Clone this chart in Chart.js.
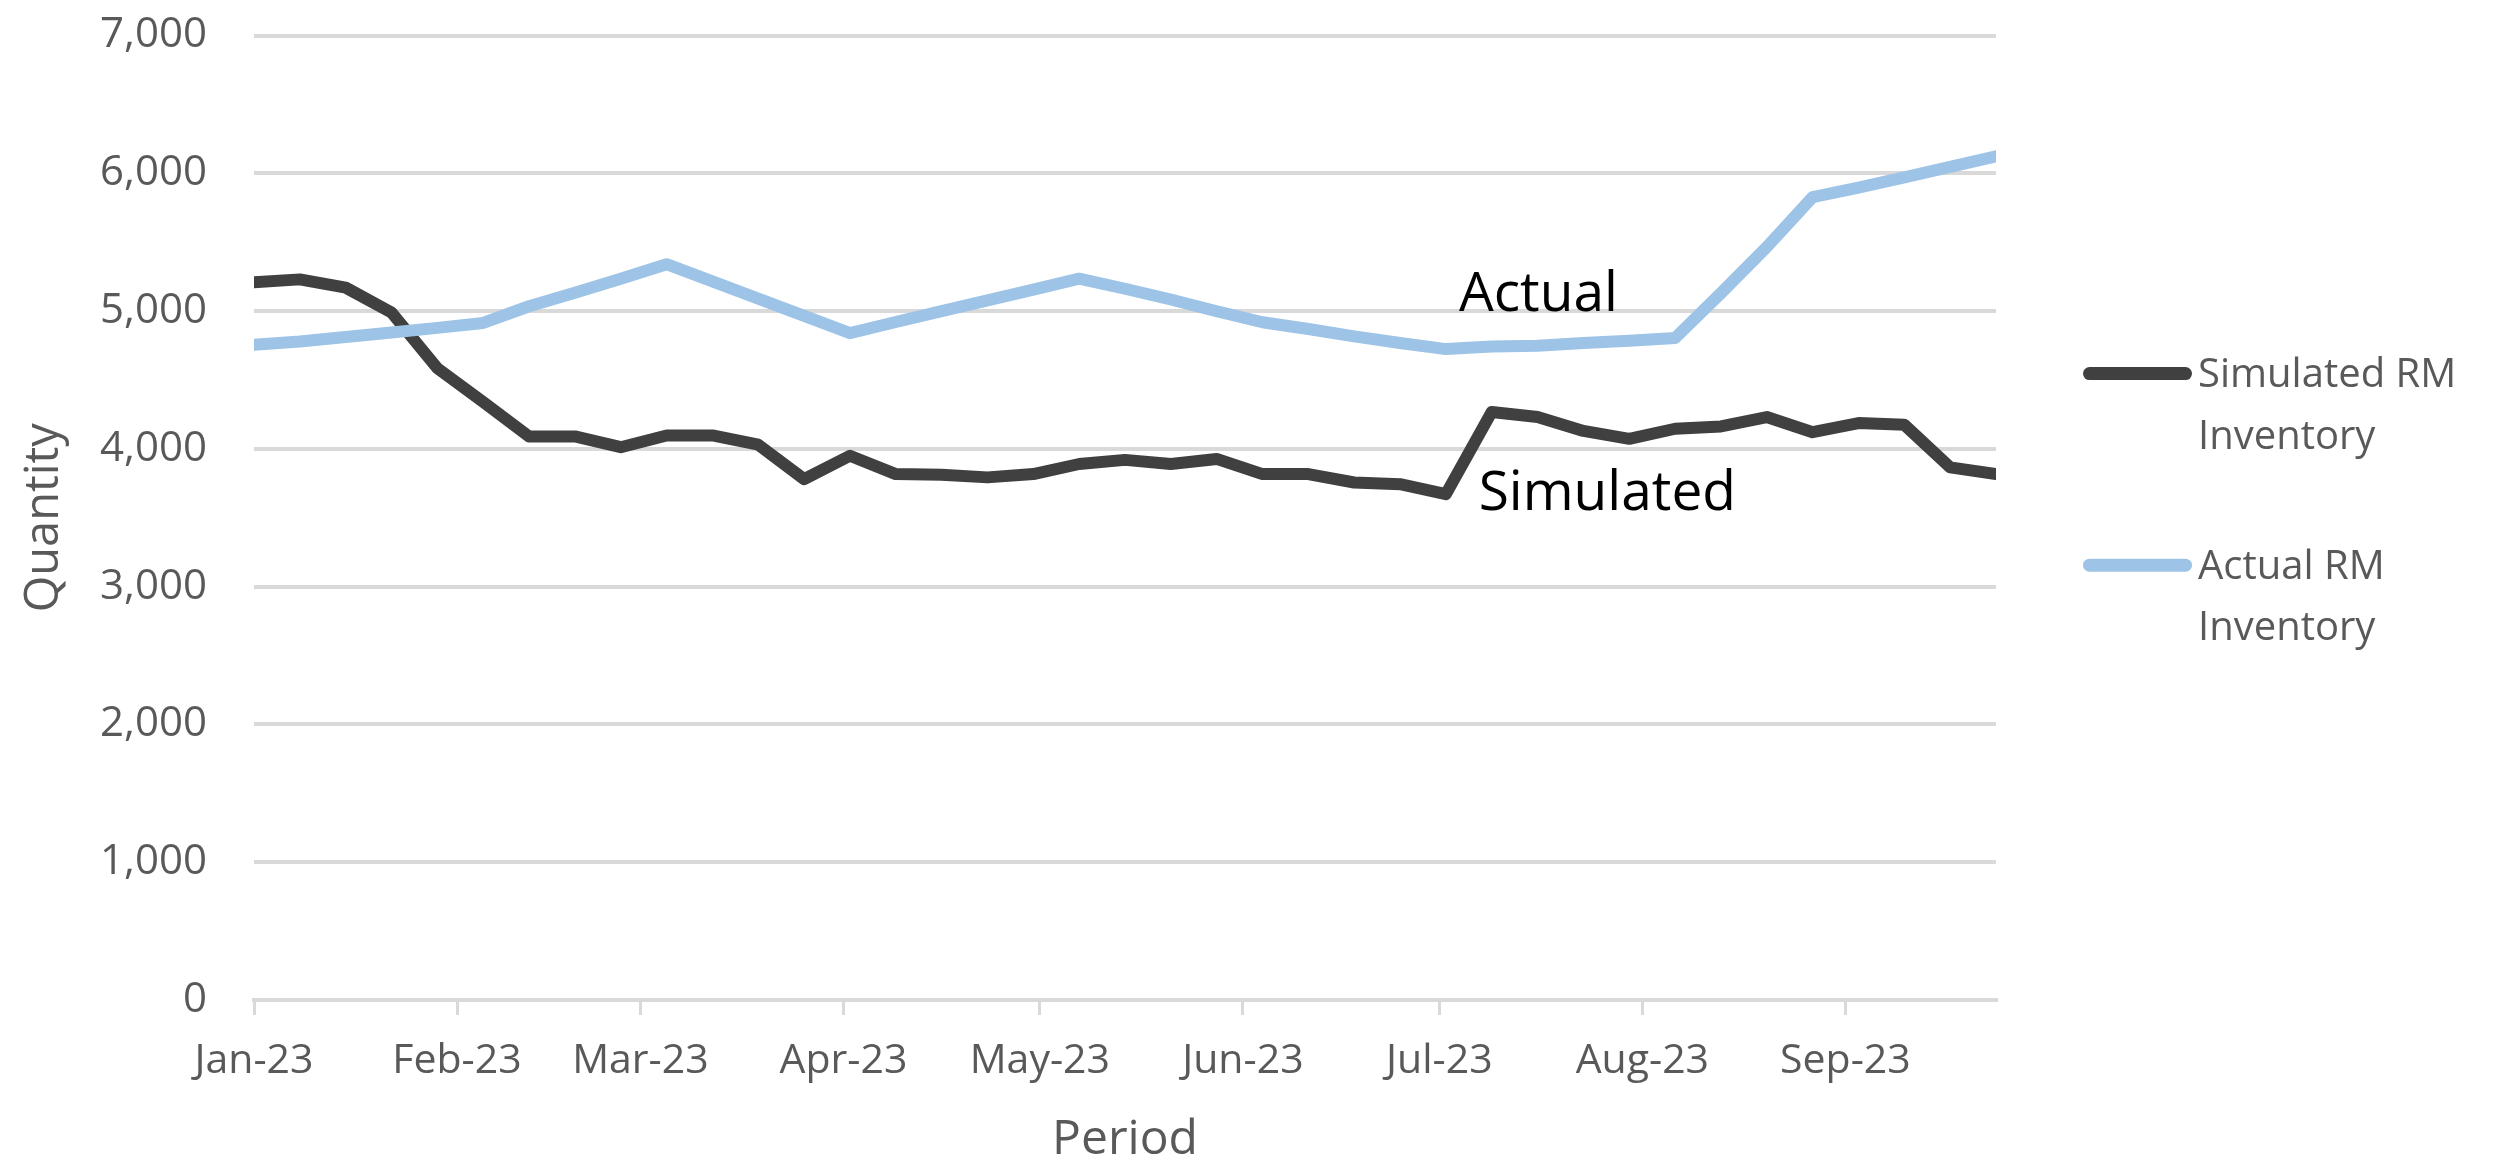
<!DOCTYPE html>
<html>
<head>
<meta charset="utf-8">
<title>RM Inventory</title>
<script src="https://cdn.jsdelivr.net/npm/chart.js@4.4.1/dist/chart.umd.min.js"></script>
<style>
  html, body { margin: 0; padding: 0; background: #ffffff; }
  #wrap { width: 2497px; height: 1165px; position: relative; }
</style>
</head>
<body>
<div id="wrap"><canvas id="chart" width="2497" height="1165"></canvas></div>
<script>
// Weekly observation dates (Sundays)
const weekDates = [
  '2023-01-01', '2023-01-08', '2023-01-15', '2023-01-22', '2023-01-29',
  '2023-02-05', '2023-02-12', '2023-02-19', '2023-02-26',
  '2023-03-05', '2023-03-12', '2023-03-19', '2023-03-26',
  '2023-04-02', '2023-04-09', '2023-04-16', '2023-04-23', '2023-04-30',
  '2023-05-07', '2023-05-14', '2023-05-21', '2023-05-28',
  '2023-06-04', '2023-06-11', '2023-06-18', '2023-06-25',
  '2023-07-02', '2023-07-09', '2023-07-16', '2023-07-23', '2023-07-30',
  '2023-08-06', '2023-08-13', '2023-08-20', '2023-08-27',
  '2023-09-03', '2023-09-10', '2023-09-17', '2023-09-24'
];

const simulatedInventory = [
  5210, 5230, 5170, 4990, 4585, 4340, 4090, 4090, 4012, 4097,
  4097, 4030, 3780, 3950, 3817, 3812, 3793, 3817, 3890, 3920,
  3890, 3927, 3817, 3817, 3756, 3744, 3671, 4268, 4231, 4130,
  4073, 4146, 4163, 4231, 4121, 4187, 4175, 3866, 3817
];

const actualInventory = [
  4755, 4779, 4812, 4845, 4878, 4914, 5035, 5133, 5235, 5340,
  5215, 5090, 4965, 4840, 4921, 4999, 5077, 5155, 5235, 5162,
  5084, 4999, 4919, 4870, 4816, 4768, 4724, 4743, 4748, 4768,
  4784, 4804, 5130, 5465, 5827, 5896, 5971, 6047, 6123
];

const seriesNames = ['Simulated RM Inventory', 'Actual RM Inventory'];

const monthTickDates = [
  '2023-01-01', '2023-02-01', '2023-03-01', '2023-04-01', '2023-05-01',
  '2023-06-01', '2023-07-01', '2023-08-01', '2023-09-01'
];
const monthTickLabels = [
  'Jan-23', 'Feb-23', 'Mar-23', 'Apr-23', 'May-23',
  'Jun-23', 'Jul-23', 'Aug-23', 'Sep-23'
];

// Text labels placed next to the two lines
const lineNotes = [
  { text: 'Actual',    date: '2023-07-04', value: 5000 },
  { text: 'Simulated', date: '2023-07-07', value: 3556 }
];

const startDate = Date.parse(weekDates[0]);
const dayOffset = iso => (Date.parse(iso) - startDate) / 86400000;
const lastDay = dayOffset(weekDates[weekDates.length - 1]);

const FONT = "'Open Sans', 'Noto Sans', sans-serif";
const AXIS_GREY = '#595959';
const GRID_GREY = '#D9D9D9';

// Desired plot rectangle on the canvas
const PLOT = { left: 254, top: 35.5, right: 1996, bottom: 1000 };

// Legend drawn to the right of the plot with wrapped labels
const sideLegend = {
  id: 'sideLegend',
  afterDraw(chart, args, opts) {
    const { ctx, chartArea } = chart;
    ctx.save();
    ctx.font = `${opts.fontSize}px ${FONT}`;
    ctx.textAlign = 'left';
    ctx.textBaseline = 'alphabetic';
    chart.data.datasets.forEach((ds, i) => {
      const baseY = opts.top + i * opts.rowGap;
      const x0 = chartArea.right + opts.offsetX;
      const half = opts.swatchWidth / 2;
      ctx.strokeStyle = ds.borderColor;
      ctx.lineWidth = opts.swatchWidth;
      ctx.lineCap = 'round';
      ctx.beginPath();
      ctx.moveTo(x0 + half, baseY - opts.swatchRaise);
      ctx.lineTo(x0 + opts.swatchLength - half, baseY - opts.swatchRaise);
      ctx.stroke();
      // word wrap
      const words = ds.label.split(' ');
      const lines = [];
      let cur = '';
      words.forEach(w => {
        const test = cur ? cur + ' ' + w : w;
        if (cur && ctx.measureText(test).width > opts.maxWidth) {
          lines.push(cur);
          cur = w;
        } else {
          cur = test;
        }
      });
      if (cur) lines.push(cur);
      ctx.fillStyle = opts.color;
      lines.forEach((ln, j) => {
        ctx.fillText(ln, x0 + opts.swatchLength + opts.gap, baseY + j * opts.lineGap);
      });
    });
    ctx.restore();
  }
};

// Free text labels anchored in data coordinates
const noteLabels = {
  id: 'noteLabels',
  afterDatasetsDraw(chart, args, opts) {
    const { ctx, scales } = chart;
    ctx.save();
    ctx.font = `${opts.fontSize}px ${FONT}`;
    ctx.fillStyle = opts.color;
    ctx.textAlign = 'left';
    ctx.textBaseline = 'alphabetic';
    lineNotes.forEach(n => {
      ctx.fillText(n.text, scales.x.getPixelForValue(dayOffset(n.date)), scales.y.getPixelForValue(n.value));
    });
    ctx.restore();
  }
};

const toPoints = values => weekDates.map((d, i) => ({ x: dayOffset(d), y: values[i] }));

const chart = new Chart(document.getElementById('chart'), {
  type: 'line',
  data: {
    datasets: [
      {
        label: seriesNames[0],
        data: toPoints(simulatedInventory),
        borderColor: '#404040',
        backgroundColor: '#404040',
        borderWidth: 12,
        pointRadius: 0,
        borderCapStyle: 'round',
        borderJoinStyle: 'round',
        tension: 0,
        fill: false,
        order: 1
      },
      {
        label: seriesNames[1],
        data: toPoints(actualInventory),
        borderColor: '#9DC3E6',
        backgroundColor: '#9DC3E6',
        borderWidth: 12,
        pointRadius: 0,
        borderCapStyle: 'round',
        borderJoinStyle: 'round',
        tension: 0,
        fill: false,
        order: 0
      }
    ]
  },
  options: {
    responsive: false,
    animation: false,
    devicePixelRatio: 1,
    layout: { padding: { left: 0, top: PLOT.top, right: 2497 - PLOT.right, bottom: 0 } },
    plugins: {
      legend: { display: false },
      tooltip: { enabled: false },
      sideLegend: {
        fontSize: 40, color: AXIS_GREY,
        top: 387, rowGap: 191.6, lineGap: 61.6,
        offsetX: 87, swatchLength: 109, swatchWidth: 13, swatchRaise: 13.4,
        gap: 6, maxWidth: 290
      },
      noteLabels: { fontSize: 55, color: '#000000' }
    },
    scales: {
      x: {
        type: 'linear',
        min: 0,
        max: lastDay,
        afterBuildTicks: scale => {
          scale.ticks = monthTickDates.map(d => ({ value: dayOffset(d) }));
        },
        afterFit: scale => { scale.height = 1165 - PLOT.bottom; },
        ticks: {
          autoSkip: false,
          maxRotation: 0,
          minRotation: 0,
          padding: 22,
          color: AXIS_GREY,
          font: { family: FONT, size: 41 },
          callback: (value, index) => monthTickLabels[index]
        },
        grid: {
          display: true,
          drawOnChartArea: false,
          drawTicks: true,
          tickLength: 15,
          color: GRID_GREY,
          lineWidth: 3
        },
        border: { display: true, color: GRID_GREY, width: 4 },
        title: {
          display: true,
          text: 'Period',
          color: AXIS_GREY,
          font: { family: FONT, size: 48, lineHeight: 1 },
          padding: { top: 0, bottom: 1 }
        }
      },
      y: {
        min: 0,
        max: 7000,
        afterFit: scale => {
          scale.width = PLOT.left;
          // the tick padding is only meant to space labels from the plot horizontally
          scale.paddingTop = 0;
          scale.paddingBottom = 0;
        },
        ticks: {
          stepSize: 1000,
          padding: 47,
          color: AXIS_GREY,
          font: { family: FONT, size: 42 },
          callback: v => v.toLocaleString('en-US')
        },
        grid: { color: GRID_GREY, lineWidth: 4, drawTicks: false },
        border: { display: false },
        title: {
          display: true,
          text: 'Quantity',
          color: AXIS_GREY,
          font: { family: FONT, size: 47, lineHeight: 1 },
          padding: { top: 21, bottom: 0 }
        }
      }
    }
  },
  plugins: [sideLegend, noteLabels]
});

// Nudge the layout padding so the plot area lands on the intended rectangle
for (let pass = 0; pass < 4; pass++) {
  const area = chart.chartArea;
  const pad = chart.config.options.layout.padding;
  const dTop = PLOT.top - area.top;
  const dRight = area.right - PLOT.right;
  if (Math.abs(dTop) < 0.25 && Math.abs(dRight) < 0.25) break;
  pad.top += dTop;
  pad.right += dRight;
  chart.update();
}
</script>
</body>
</html>
